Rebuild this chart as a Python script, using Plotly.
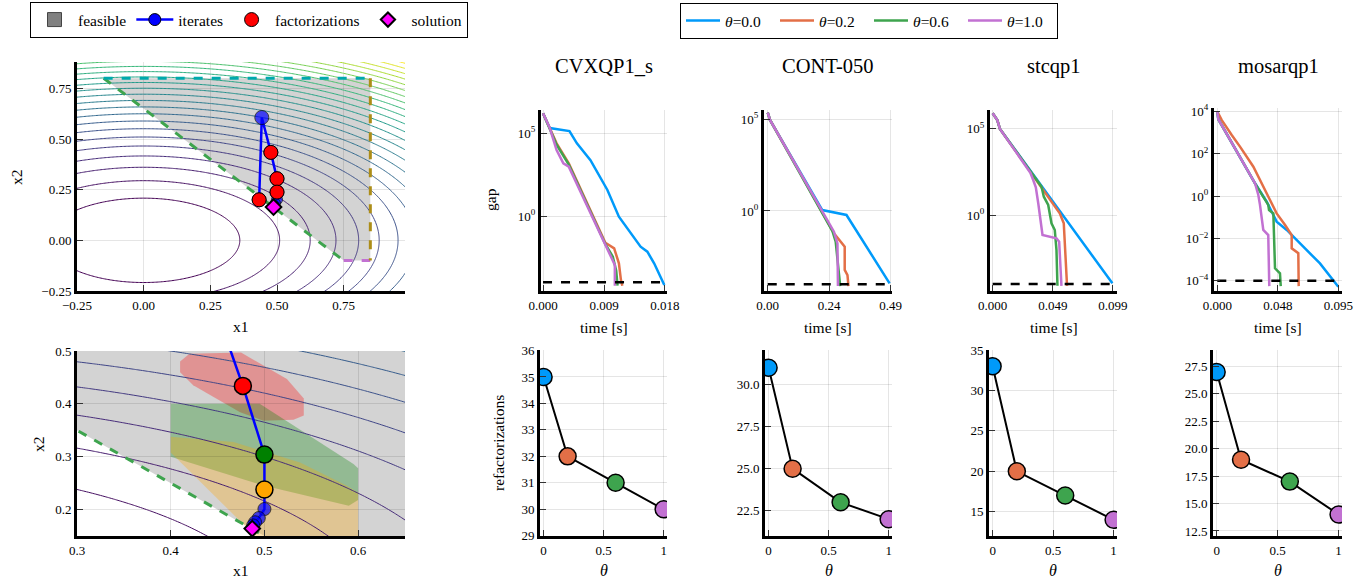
import numpy as np
import plotly.graph_objects as go

W, H = 1369, 582
FONT = "Liberation Serif"
C_T0, C_T2, C_T6, C_T10 = "#009AFA", "#E36F47", "#3EA44E", "#C271D2"
GOLD, TEAL = "#AC8D18", "#00A9AD"

# ---------------- data: toy problem ----------------
Q_DIAG = [1.0, 3.0]              # objective f = q1*x1^2 + q2*x2^2
LEVEL_START, LEVEL_END, LEVEL_STEP = 0.13, 3.25, 0.13

feas_x1 = [-0.15, 0.85, 0.85, 0.75]
feas_x2 = [0.80, 0.80, -0.10, -0.10]
con_diag_x1, con_diag_x2 = [-0.15, 0.75], [0.80, -0.10]
con_top_x1, con_top_x2 = [-0.15, 0.85], [0.80, 0.80]
con_right_x1, con_right_x2 = [0.85, 0.85], [0.80, -0.10]
con_bot_x1, con_bot_x2 = [0.75, 0.85], [-0.10, -0.10]

iter_x1 = [0.433, 0.443, 0.477, 0.500, 0.500, 0.500, 0.494, 0.490, 0.488]
iter_x2 = [0.200, 0.606, 0.434, 0.304, 0.238, 0.201, 0.184, 0.176, 0.170]
iter_size = [14, 14, 14, 14, 14, 11, 10, 9, 9]
fact_x1 = [0.433, 0.477, 0.500, 0.500]
fact_x2 = [0.200, 0.434, 0.304, 0.238]
sol_x1, sol_x2 = [0.487], [0.164]

zoom_fact_colors = ["red", "green", "orange"]
red_x1 = [0.410, 0.420, 0.475, 0.524, 0.542, 0.542, 0.531, 0.499, 0.474, 0.424, 0.410]
red_x2 = [0.480, 0.495, 0.497, 0.447, 0.410, 0.378, 0.370, 0.368, 0.384, 0.435, 0.460]
green_x1 = [0.400, 0.495, 0.595, 0.600, 0.600, 0.590, 0.500, 0.400]
green_x2 = [0.400, 0.400, 0.286, 0.278, 0.218, 0.207, 0.245, 0.300]
orange_x1 = [0.400, 0.467, 0.538, 0.588, 0.600, 0.600, 0.490, 0.481, 0.400]
orange_x2 = [0.338, 0.328, 0.289, 0.245, 0.232, 0.150, 0.150, 0.166, 0.308]

# ---------------- data: gap curves (log10 gap) ----------------
TOL = 1e-4
thetas = ["0.0", "0.2", "0.6", "1.0"]
theta_vals = [0.0, 0.2, 0.6, 1.0]
theta_colors = [C_T0, C_T2, C_T6, C_T10]

cvx_t0 = [0, 0.0010, 0.0039, 0.0050, 0.0070, 0.0095, 0.0112, 0.0137, 0.0144, 0.0154, 0.0164, 0.0179]
cvx_g0 = [6.2, 5.3, 5.12, 4.38, 3.37, 1.57, -0.04, -1.45, -1.85, -2.15, -2.85, -4.16]
cvx_t2 = [0, 0.0010, 0.0020, 0.0038, 0.0092, 0.0105, 0.0112, 0.0115, 0.0117]
cvx_g2 = [6.2, 5.3, 4.38, 3.17, -1.61, -1.95, -2.85, -3.86, -4.2]
cvx_t6 = [0, 0.0010, 0.0020, 0.0038, 0.0092, 0.0103, 0.0108, 0.0110]
cvx_g6 = [6.2, 5.3, 4.3, 3.1, -1.7, -2.45, -3.3, -4.2]
cvx_t10 = [0, 0.0010, 0.0020, 0.0030, 0.0038, 0.0092, 0.0100, 0.0106, 0.0106]
cvx_g10 = [6.2, 5.3, 3.98, 3.17, 2.97, -1.75, -2.45, -2.95, -4.2]

cont_t0 = [0, 0.009, 0.2176, 0.314, 0.486]
cont_g0 = [5.37, 4.97, 0.05, -0.22, -3.95]
cont_t2 = [0, 0.009, 0.12, 0.264, 0.307, 0.307, 0.318, 0.322]
cont_g2 = [5.37, 4.97, 2.3, -1.22, -1.95, -3.22, -3.5, -4.1]
cont_t6 = [0, 0.009, 0.258, 0.271, 0.289]
cont_g6 = [5.37, 4.97, -1.1, -1.68, -4.1]
cont_t10 = [0, 0.009, 0.264, 0.278, 0.280]
cont_g10 = [5.37, 4.97, -1.13, -1.77, -4.1]

stc_t0 = [0, 0.0038, 0.006, 0.0566, 0.0985]
stc_g0 = [5.89, 5.5, 4.98, 0.06, -3.95]
stc_t2 = [0, 0.0038, 0.006, 0.0552, 0.0585, 0.0612]
stc_g2 = [5.89, 5.5, 4.98, 0.1, -0.48, -4.1]
stc_t6 = [0, 0.0038, 0.006, 0.0402, 0.0421, 0.0457, 0.0484, 0.0511, 0.0525, 0.0533]
stc_g6 = [5.89, 5.5, 4.98, 1.64, 1.06, 0.58, -0.48, -0.87, -2.03, -4.1]
stc_t10 = [0, 0.0038, 0.006, 0.031, 0.0335, 0.0355, 0.0375, 0.041, 0.0525, 0.0547, 0.0566]
stc_g10 = [5.89, 5.5, 4.98, 2.45, 2.0, 1.6, 0.68, -1.16, -1.35, -1.55, -4.1]

mos_t0 = [0, 0.0008, 0.0296, 0.0388, 0.0466, 0.0545, 0.0675, 0.0806, 0.095]
mos_g0 = [3.98, 3.62, 0.6, -0.27, -1.21, -1.6, -2.39, -3.18, -4.28]
mos_t2 = [0, 0.0035, 0.0113, 0.0178, 0.0283, 0.0388, 0.0466, 0.0532, 0.0584, 0.0584, 0.0636, 0.0639]
mos_g2 = [3.98, 3.58, 2.88, 2.33, 1.38, 0.13, -0.82, -1.37, -1.84, -2.47, -2.7, -4.25]
mos_t6 = [0, 0.0008, 0.0296, 0.0400, 0.0406, 0.0440, 0.0453, 0.0492, 0.0498]
mos_g6 = [3.98, 3.62, 0.6, -0.42, -0.66, -0.82, -3.41, -3.65, -4.25]
mos_t10 = [0, 0.0008, 0.0296, 0.0322, 0.0335, 0.0361, 0.0400, 0.0408]
mos_g10 = [3.98, 3.62, 0.6, 0.05, -0.42, -1.6, -1.84, -4.25]

problems = ["CVXQP1_s", "CONT-050", "stcqp1", "mosarqp1"]
gap_t = [[cvx_t0, cvx_t2, cvx_t6, cvx_t10], [cont_t0, cont_t2, cont_t6, cont_t10],
         [stc_t0, stc_t2, stc_t6, stc_t10], [mos_t0, mos_t2, mos_t6, mos_t10]]
gap_g = [[cvx_g0, cvx_g2, cvx_g6, cvx_g10], [cont_g0, cont_g2, cont_g6, cont_g10],
         [stc_g0, stc_g2, stc_g6, stc_g10], [mos_g0, mos_g2, mos_g6, mos_g10]]
t_max = [0.018, 0.49, 0.099, 0.095]
t_ticktext = [["0.000", "0.009", "0.018"], ["0.00", "0.24", "0.49"],
              ["0.000", "0.049", "0.099"], ["0.000", "0.048", "0.095"]]
gap_exps = [[0, 5], [0, 5], [0, 5], [-4, -2, 0, 2, 4]]

refac_cvx = [35, 32, 31, 30]
refac_cont = [31, 25, 23, 22]
refac_stc = [33, 20, 17, 14]
refac_mos = [27, 19, 17, 14]
refacs = [refac_cvx, refac_cont, refac_stc, refac_mos]
refac_ticks = [[29, 30, 31, 32, 33, 34, 35, 36], [22.5, 25.0, 27.5, 30.0],
               [15, 20, 25, 30, 35], [12.5, 15.0, 17.5, 20.0, 22.5, 25.0, 27.5]]
refac_fmt = ["d", ".1f", "d", ".1f"]

# ---------------- layout geometry (pixels) ----------------
def dx(a, b):
    return [a / W, b / W]

def dy(top, bot):
    return [1 - bot / H, 1 - top / H]

boxes = {
    1: ((77, 405), (62, 291)),
    2: ((77, 405), (351, 536)),
    3: ((541, 667), (110, 291)),
    4: ((764, 892), (110, 291)),
    5: ((990, 1117), (110, 291)),
    6: ((1214, 1342), (108, 291)),
    7: ((540, 667), (350, 536)),
    8: ((765, 892), (350, 536)),
    9: ((989, 1117), (350, 536)),
    10: ((1213, 1342), (350, 536)),
}
gap_xrange = [[-0.0003, 0.0183], [-0.0149, 0.4956], [-0.0022, 0.1023], [-0.0026, 0.0979]]
gap_yrange = [[-4.52, 6.39], [-4.37, 5.51], [-4.40, 6.08], [-4.48, 4.15]]
refac_yrange = [[28.99, 36.02], [21.0, 32.05], [12.0, 35.0], [12.04, 29.0]]

fig = go.Figure()

def axname(i, kind):
    return kind if i == 1 else f"{kind}{i}"

# ---------- contours (drawn first) ----------
xg = np.linspace(-0.3, 1.0, 261)
yg = np.linspace(-0.3, 0.95, 251)
XG, YG = np.meshgrid(xg, yg)
ZG = Q_DIAG[0] * XG ** 2 + Q_DIAG[1] * YG ** 2
for i in (1, 2):
    fig.add_trace(go.Contour(
        x=xg, y=yg, z=ZG, xaxis=axname(i, "x"), yaxis=axname(i, "y"),
        contours=dict(start=LEVEL_START, end=LEVEL_END, size=LEVEL_STEP, coloring="lines"),
        colorscale="Viridis", zauto=False, zmin=LEVEL_START, zmax=LEVEL_END,
        line=dict(width=1), showscale=False, hoverinfo="skip", showlegend=False))

# ---------- shapes: feasible set and regions ----------
def poly_path(xs, ys):
    return "M " + " L ".join(f"{a},{b}" for a, b in zip(xs, ys)) + " Z"

shapes = []
for i in (1, 2):
    shapes.append(dict(type="path", path=poly_path(feas_x1, feas_x2), xref=axname(i, "x"),
                       yref=axname(i, "y"), fillcolor="rgb(211,211,211)", line=dict(width=0),
                       layer="below"))
for xs, ys, col in [(red_x1, red_x2, "rgba(255,0,0,0.3)"),
                    (green_x1, green_x2, "rgba(0,128,0,0.3)"),
                    (orange_x1, orange_x2, "rgba(255,165,0,0.3)")]:
    shapes.append(dict(type="path", path=poly_path(xs, ys), xref="x2", yref="y2",
                       fillcolor=col, line=dict(width=0), layer="below"))

# ---------- constraint lines ----------
for i in (1, 2):
    for xs, ys, col in [(con_diag_x1, con_diag_x2, C_T6), (con_bot_x1, con_bot_x2, C_T10),
                        (con_right_x1, con_right_x2, GOLD), (con_top_x1, con_top_x2, TEAL)]:
        fig.add_trace(go.Scatter(x=xs, y=ys, mode="lines", xaxis=axname(i, "x"), yaxis=axname(i, "y"),
                                 line=dict(color=col, width=3, dash="dash"), showlegend=False,
                                 hoverinfo="skip"))

# ---------- top-left: iterates ----------
fig.add_trace(go.Scatter(x=iter_x1, y=iter_x2, mode="lines+markers", xaxis="x", yaxis="y",
                         line=dict(color="blue", width=2.5),
                         marker=dict(color="blue", size=iter_size, line=dict(color="black", width=1)),
                         showlegend=False))
fig.add_trace(go.Scatter(x=fact_x1, y=fact_x2, mode="markers", xaxis="x", yaxis="y",
                         marker=dict(color="red", size=14, line=dict(color="black", width=1)),
                         showlegend=False))
fig.add_trace(go.Scatter(x=sol_x1, y=sol_x2, mode="markers", xaxis="x", yaxis="y",
                         marker=dict(color="magenta", symbol="diamond", size=12,
                                     line=dict(color="black", width=2)), showlegend=False))

# ---------- bottom-left: zoom ----------
fig.add_trace(go.Scatter(x=iter_x1[1:], y=iter_x2[1:], mode="lines+markers", xaxis="x2", yaxis="y2",
                         line=dict(color="blue", width=2.5),
                         marker=dict(color="blue", size=[16, 16, 16, 16, 13, 13, 13, 13],
                                     line=dict(color="black", width=1)),
                         showlegend=False))
fig.add_trace(go.Scatter(x=fact_x1[1:], y=fact_x2[1:], mode="markers", xaxis="x2", yaxis="y2",
                         marker=dict(color=zoom_fact_colors, size=17, line=dict(color="black", width=1.5)),
                         showlegend=False))
fig.add_trace(go.Scatter(x=sol_x1, y=sol_x2, mode="markers", xaxis="x2", yaxis="y2",
                         marker=dict(color="magenta", symbol="diamond", size=12,
                                     line=dict(color="black", width=2)), showlegend=False))

# ---------- legend 1 (dummy entries) ----------
fig.add_trace(go.Scatter(x=[None], y=[None], mode="markers", name="feasible", legend="legend",
                         marker=dict(symbol="square", size=14, color="gray", line=dict(color="#444", width=1))))
fig.add_trace(go.Scatter(x=[None], y=[None], mode="lines+markers", name="iterates", legend="legend",
                         line=dict(color="blue", width=2.5),
                         marker=dict(color="blue", size=12, line=dict(color="black", width=1))))
fig.add_trace(go.Scatter(x=[None], y=[None], mode="markers", name="factorizations", legend="legend",
                         marker=dict(color="red", size=14, line=dict(color="black", width=1))))
fig.add_trace(go.Scatter(x=[None], y=[None], mode="markers", name="solution", legend="legend",
                         marker=dict(color="magenta", symbol="diamond", size=11,
                                     line=dict(color="black", width=2))))

# ---------- gap plots ----------
for p in range(4):
    ai = 3 + p
    xa, ya = axname(ai, "x"), axname(ai, "y")
    for k in range(4):
        fig.add_trace(go.Scatter(x=gap_t[p][k], y=[10 ** v for v in gap_g[p][k]], mode="lines",
                                 xaxis=xa, yaxis=ya, line=dict(color=theta_colors[k], width=2.5),
                                 name=f"<i>θ</i>={thetas[k]}", legend="legend2",
                                 showlegend=(p == 0)))
    fig.add_trace(go.Scatter(x=[0, t_max[p]], y=[TOL, TOL], mode="lines", xaxis=xa, yaxis=ya,
                             line=dict(color="black", width=2.5, dash="dash"), showlegend=False))

# ---------- refactorization plots ----------
for p in range(4):
    ai = 7 + p
    fig.add_trace(go.Scatter(x=theta_vals, y=refacs[p], mode="lines+markers",
                             xaxis=axname(ai, "x"), yaxis=axname(ai, "y"),
                             line=dict(color="black", width=2),
                             marker=dict(color=theta_colors, size=17, line=dict(color="black", width=1.5)),
                             showlegend=False))

# ---------- axes ----------
base = dict(showline=True, linewidth=3, linecolor="black", mirror=False, ticks="inside", ticklen=6,
            tickwidth=1, tickcolor="#333", showgrid=True, gridcolor="rgba(0,0,0,0.1)", gridwidth=1,
            zeroline=False, automargin=False,
            tickfont=dict(family=FONT, size=13, color="black"))
layout_axes = {}
for i, ((x0, x1), (t0, b0)) in boxes.items():
    layout_axes[axname(i, "xaxis")] = dict(base, domain=dx(x0, x1), anchor=axname(i, "y"))
    layout_axes[axname(i, "yaxis")] = dict(base, domain=dy(t0, b0), anchor=axname(i, "x"))

layout_axes["xaxis"].update(range=[-0.25, 0.98], tickvals=[-0.25, 0, 0.25, 0.5, 0.75], tickformat=".2f")
layout_axes["yaxis"].update(range=[-0.25, 0.88], tickvals=[-0.25, 0, 0.25, 0.5, 0.75], tickformat=".2f")
layout_axes["xaxis2"].update(range=[0.3, 0.65], tickvals=[0.3, 0.4, 0.5, 0.6], tickformat=".1f")
layout_axes["yaxis2"].update(range=[0.15, 0.5], tickvals=[0.2, 0.3, 0.4, 0.5], tickformat=".1f")

def exp_label(e):
    s = str(e).replace("-", "−")
    return f"10<sup>{s}</sup>"

for p in range(4):
    ai = 3 + p
    layout_axes[axname(ai, "xaxis")].update(range=gap_xrange[p], tickvals=[0, t_max[p] / 2, t_max[p]],
                                           ticktext=t_ticktext[p])
    layout_axes[axname(ai, "yaxis")].update(type="log", range=gap_yrange[p],
                                           tickvals=[10 ** e for e in gap_exps[p]],
                                           ticktext=[exp_label(e) for e in gap_exps[p]])
    bi = 7 + p
    layout_axes[axname(bi, "xaxis")].update(range=[-0.03, 1.028], tickvals=[0, 0.5, 1],
                                           ticktext=["0", "0.5", "1"])
    layout_axes[axname(bi, "yaxis")].update(range=refac_yrange[p], tickvals=refac_ticks[p],
                                           tickformat=refac_fmt[p])

# ---------- annotations (titles & axis labels) ----------
ann = []

def add_text(text, x, y, size, angle=0):
    ann.append(dict(text=text, x=x / W, y=1 - y / H, xref="paper", yref="paper", showarrow=False,
                    xanchor="center", yanchor="middle", textangle=angle,
                    font=dict(family=FONT, size=size, color="black")))

for p in range(4):
    (x0, x1), _ = boxes[3 + p]
    add_text(problems[p], (x0 + x1) / 2, 66, 20.5)
    add_text("time [s]", (x0 + x1) / 2, 327, 15.5)
    (bx0, bx1), _ = boxes[7 + p]
    add_text("<i>θ</i>", (bx0 + bx1) / 2, 570, 16)
add_text("gap", 490, 200, 15.5, -90)
add_text("refactorizations", 498, 443, 15.5, -90)
add_text("x1", 241, 326, 15.5)
add_text("x2", 16, 177, 15.5, -90)
add_text("x1", 241, 570, 15.5)
add_text("x2", 38, 444, 15.5, -90)

fig.update_layout(
    width=W, height=H, margin=dict(l=0, r=0, t=0, b=0),
    paper_bgcolor="white", plot_bgcolor="white",
    font=dict(family=FONT, color="black"),
    shapes=shapes, annotations=ann,
    legend=dict(x=30 / W, y=1 - 2 / H, xanchor="left", yanchor="top", orientation="h",
                bordercolor="black", borderwidth=1, bgcolor="white", itemwidth=37,
                font=dict(family=FONT, size=15.5, color="black")),
    legend2=dict(x=680 / W, y=1 - 3 / H, xanchor="left", yanchor="top", orientation="h",
                 bordercolor="black", borderwidth=1, bgcolor="white", itemwidth=34,
                 entrywidth=45, entrywidthmode="pixels",
                 font=dict(family=FONT, size=15.5, color="black")),
    **layout_axes,
)

fig.write_html("out.html", config={"displayModeBar": False},
               post_script="document.body.style.margin='0';document.body.style.overflow='hidden';")
